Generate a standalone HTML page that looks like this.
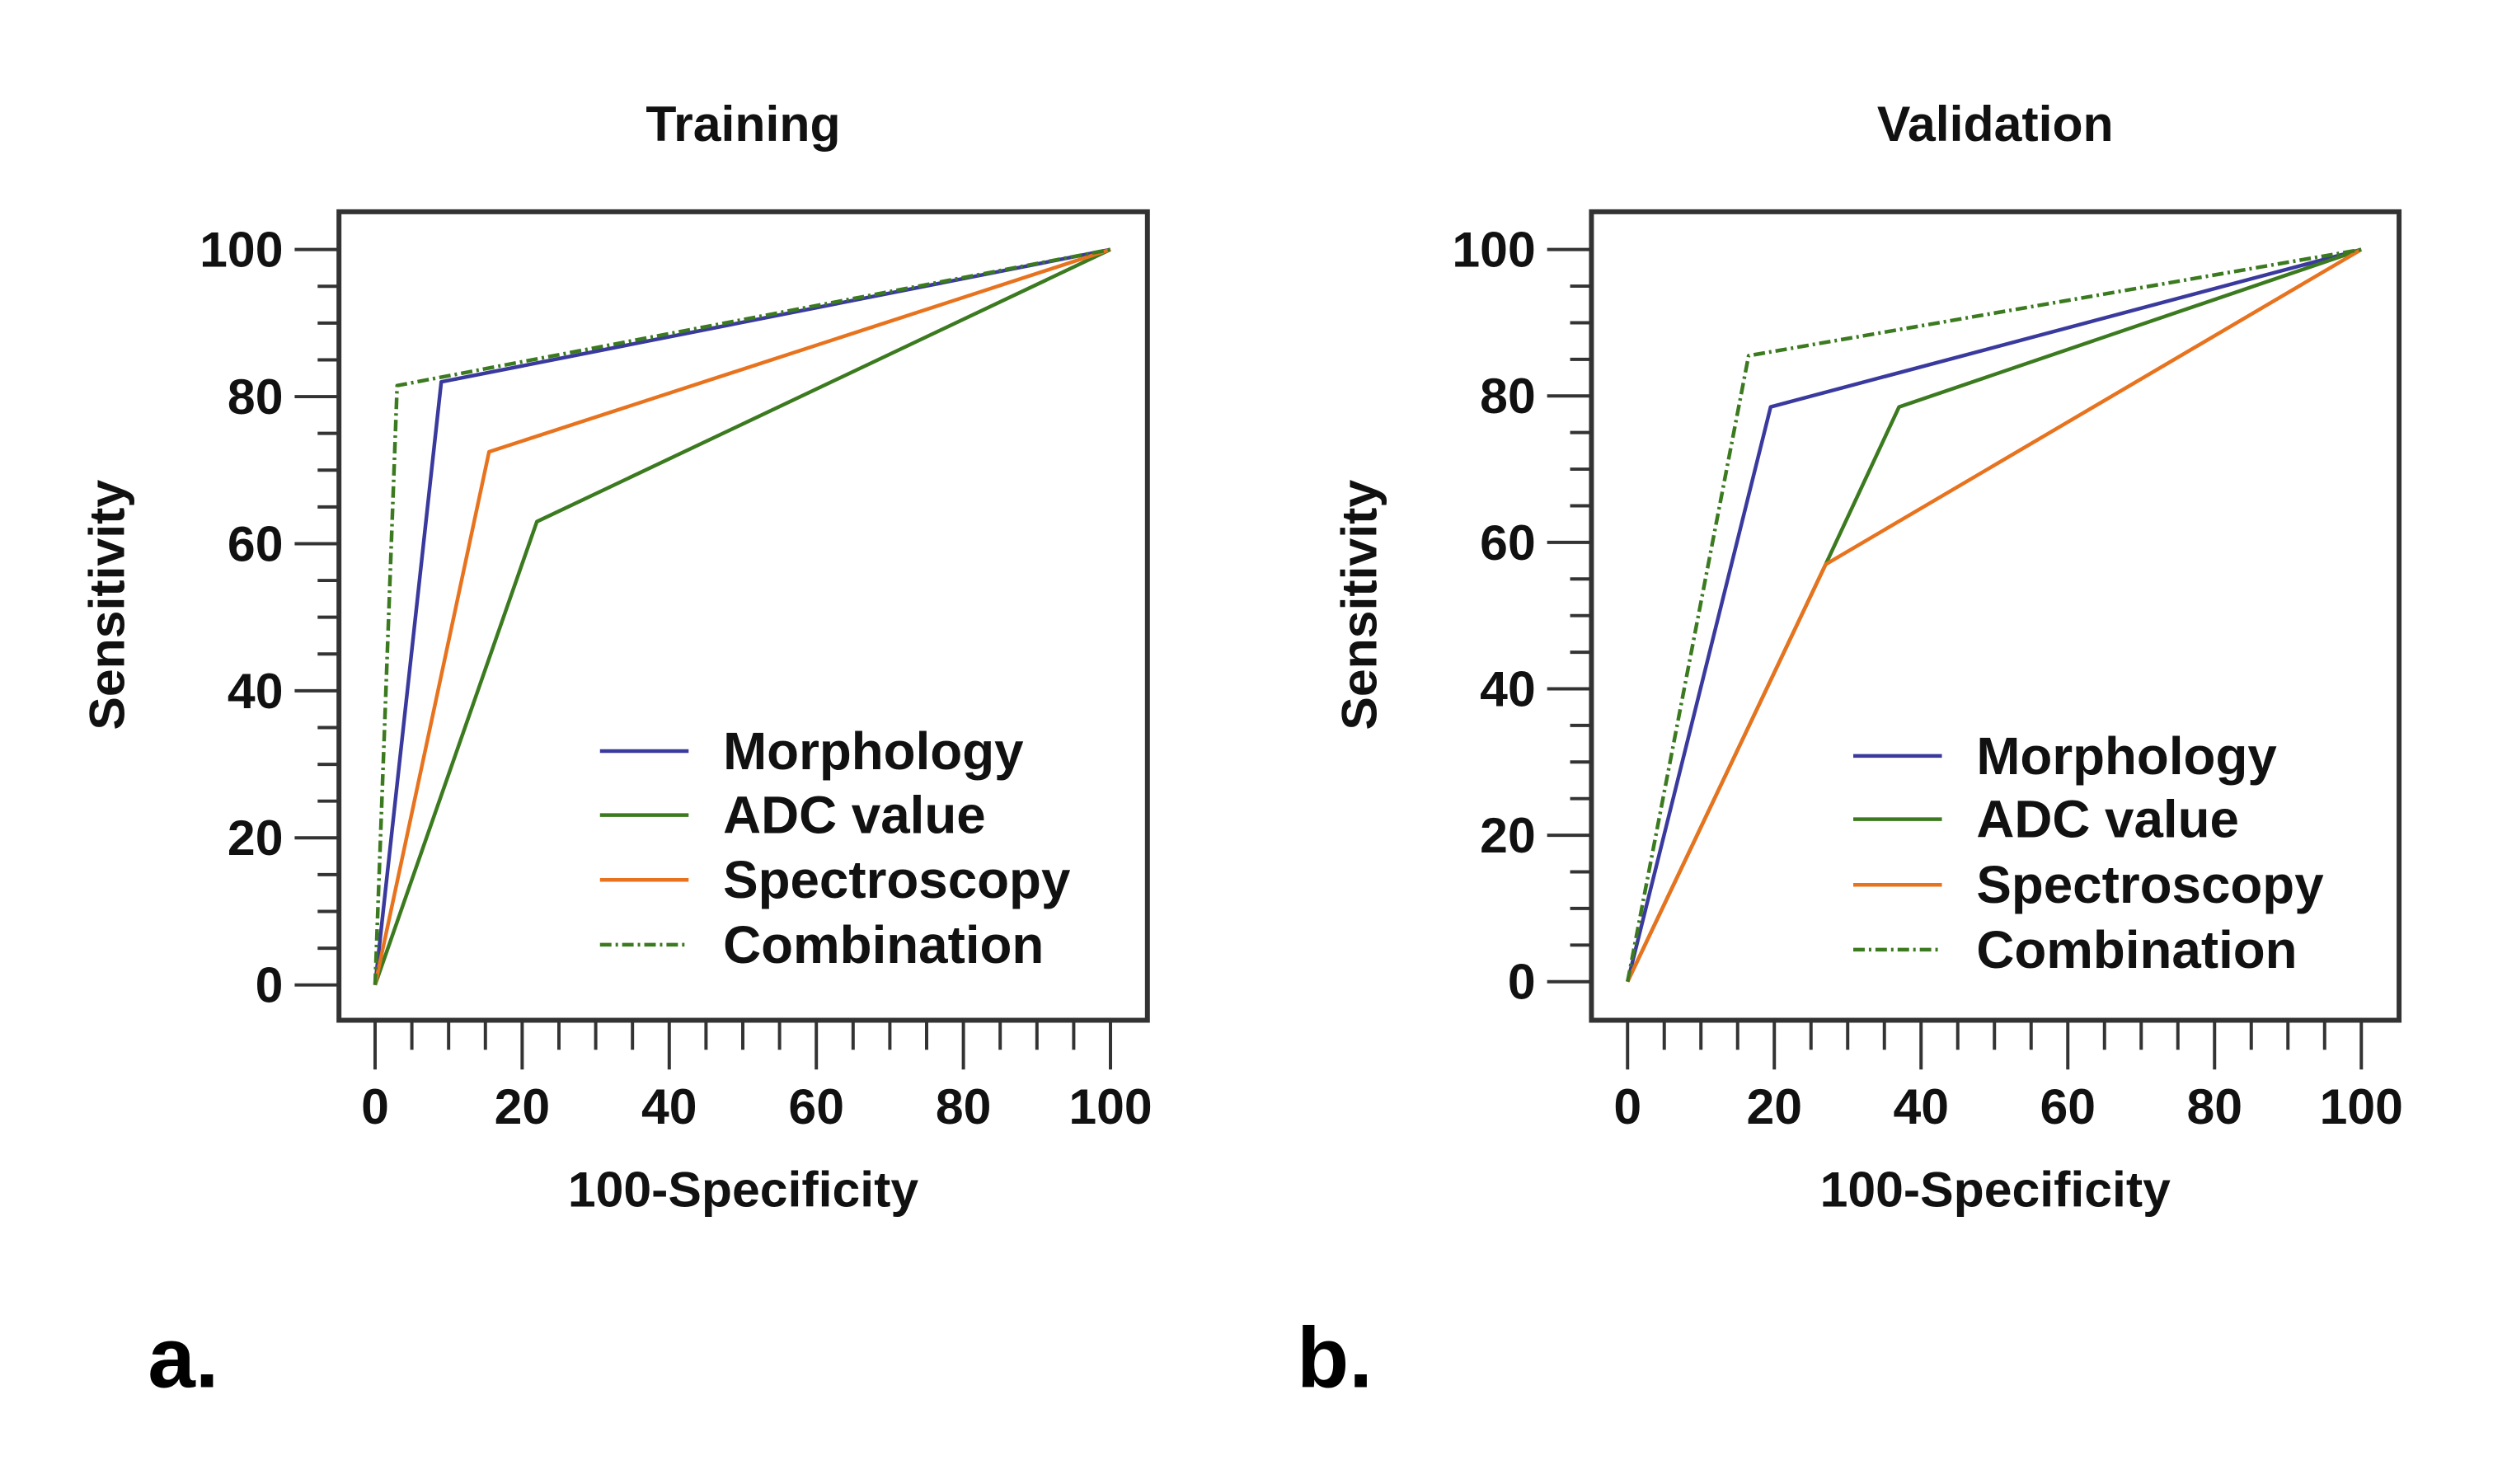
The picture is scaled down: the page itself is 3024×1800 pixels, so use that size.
<!DOCTYPE html>
<html><head><meta charset="utf-8"><style>
html,body{margin:0;padding:0;background:#fff;}
svg{display:block;font-family:"Liberation Sans",Arial,sans-serif;font-weight:bold;}
</style></head><body>
<svg id="fig" width="3024" height="1800" viewBox="0 0 3037 1808" preserveAspectRatio="xMinYMin meet" xmlns="http://www.w3.org/2000/svg"></svg>
<script>
const seriesNames = ["Morphology","ADC value","Spectroscopy","Combination"];
const seriesColors = ["#3a3a9e","#3b7a1f","#e8731e","#3b7a1f"];
const trainMorphX = [0,9,100], trainMorphY = [0,82,100];
const trainAdcX = [0,22,100], trainAdcY = [0,63,100];
const trainSpecX = [0,15.5,100], trainSpecY = [0,72.5,100];
const trainCombX = [0,3,100], trainCombY = [0,81.5,100];
const valMorphX = [0,19.5,100], valMorphY = [0,78.5,100];
const valAdcX = [0,27,37,100], valAdcY = [0,57,78.5,100];
const valSpecX = [0,27,100], valSpecY = [0,57,100];
const valCombX = [0,16.5,100], valCombY = [0,85.5,100];
const tickLabels = [0,20,40,60,80,100];

const NS="http://www.w3.org/2000/svg";
const svg=document.getElementById('fig');
function mk(tag,attrs,parent){const e=document.createElementNS(NS,tag);for(const k in attrs)e.setAttribute(k,attrs[k]);(parent||svg).appendChild(e);return e;}

const panels=[
 {id:'training',title:'Training',letter:'a.',letterX:180,box:[413,258,1398,1243],x0:457,x1:1353,y0:1200,y1:304,
  series:[[trainMorphX,trainMorphY],[trainAdcX,trainAdcY],[trainSpecX,trainSpecY],[trainCombX,trainCombY]],
  legX:731,legY:[915,993,1072,1151]},
 {id:'validation',title:'Validation',letter:'b.',letterX:1580,box:[1939,258,2923,1243],x0:1983,x1:2877,y0:1196,y1:304,
  series:[[valMorphX,valMorphY],[valAdcX,valAdcY],[valSpecX,valSpecY],[valCombX,valCombY]],
  legX:2258,legY:[921,998,1078,1157]}
];

panels.forEach(p=>{
  const g=mk('g',{});
  
  
  const sx=v=>p.x0+(p.x1-p.x0)*v/100;
  const sy=v=>p.y0+(p.y1-p.y0)*v/100;
  const [bl,bt,br,bb]=p.box;
  const cx=(bl+br)/2;
  const t=mk('text',{x:cx,y:172,'text-anchor':'middle','font-size':61,fill:'#111'},g);
  t.textContent=p.title;
  
  
  p.series.forEach((s,i)=>{
    const pts=s[0].map((x,j)=>sx(x)+','+sy(s[1][j])).join(' ');
    const attrs={points:pts,fill:'none',stroke:seriesColors[i],'stroke-width':4.5,'stroke-linejoin':'round'};
    if(i===3)attrs['stroke-dasharray']='14,5,3,5';
    const pl=mk('polyline',attrs,g);
    
    
  });
  const box=mk('rect',{x:bl,y:bt,width:br-bl,height:bb-bt,fill:'none',stroke:'#333','stroke-width':6},g);
  
  
  for(let v=0;v<=100;v+=5){
    const maj=v%20===0;
    mk('line',{x1:maj?bl-54:bl-26,x2:bl,y1:sy(v),y2:sy(v),stroke:'#333','stroke-width':4},g);
    const xv=p.x0+(p.x1-p.x0)*v/100;
    mk('line',{x1:xv,x2:xv,y1:bb,y2:maj?bb+60:bb+36,stroke:'#333','stroke-width':4},g);
  }
  tickLabels.forEach(v=>{
    const yl=mk('text',{x:bl-68,y:sy(v)+21,'text-anchor':'end','font-size':61,fill:'#111'},g);
    yl.textContent=v;
    
    
    const xl=mk('text',{x:sx(v),y:1369,'text-anchor':'middle','font-size':61,fill:'#111'},g);
    xl.textContent=v;
    
    
  });
  const xt=mk('text',{x:cx,y:1470,'text-anchor':'middle','font-size':61,fill:'#111'},g);
  xt.textContent='100-Specificity';
  
  
  const yx=bl-262, yy=737;
  const yt=mk('text',{x:yx,y:yy,'text-anchor':'middle','font-size':61,fill:'#111',transform:`rotate(-90 ${yx} ${yy})`},g);
  yt.textContent='Sensitivity';
  
  
  seriesNames.forEach((n,i)=>{
    const la={x1:p.legX,x2:p.legX+108,y1:p.legY[i],y2:p.legY[i],stroke:seriesColors[i],'stroke-width':4.5};
    if(i===3)la['stroke-dasharray']='14,5,3,5';
    const ll=mk('line',la,g);
    
    
    const lt=mk('text',{x:p.legX+150,y:p.legY[i]+22,'font-size':64,fill:'#111'},g);
    lt.textContent=n;
    
    
  });
  const lt=mk('text',{x:p.letterX,y:1690,'font-size':104,fill:'#000'},g);
  lt.textContent=p.letter;
  
  
});
</script>
</body></html>
